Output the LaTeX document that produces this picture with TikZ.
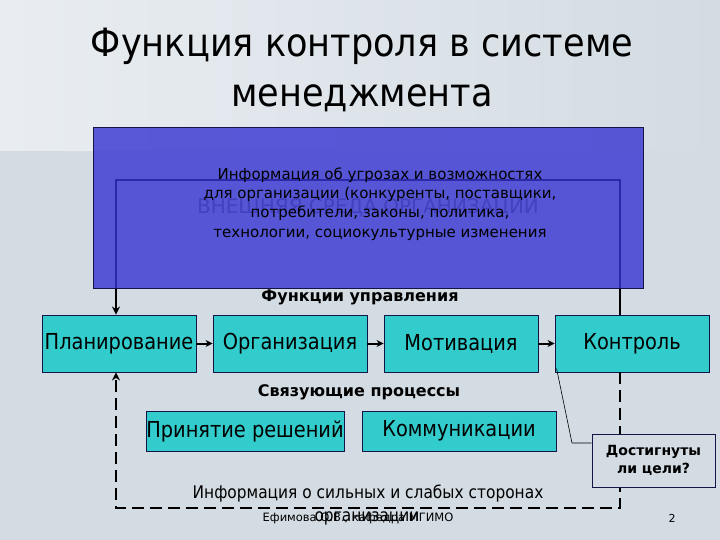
\documentclass[tikz,border=0pt]{standalone}
\usepackage{fontspec}
\setmainfont{DejaVu Sans}
\newfontfamily\ttlfont[FakeStretch=0.9]{DejaVu Sans}
\newfontfamily\boxfont[FakeStretch=0.88]{DejaVu Sans}
\usepackage{xcolor}
\usepackage{tikz}
\usetikzlibrary{arrows.meta}
\definecolor{bgc}{RGB}{211,220,227}
\definecolor{bgl}{RGB}{233,237,241}
\definecolor{envblue}{RGB}{54,52,210}
\definecolor{envtext}{RGB}{120,120,110}
\definecolor{teal}{RGB}{50,204,204}
\definecolor{navy}{RGB}{20,20,70}
\tikzset{
  fn/.style={draw=navy,line width=0.9pt,fill=teal,minimum width=154pt,minimum height=57pt,inner sep=0pt,font=\boxfont\fontsize{22}{26}\selectfont},
  lk/.style={fn,minimum height=40pt},
  goalbox/.style={draw=navy,line width=0.9pt,fill=bgc,minimum width=123pt,minimum height=53pt,align=center,font=\bfseries\fontsize{14}{18}\selectfont},
  sol/.style={line width=2.4pt,black},
  dsh/.style={line width=2.6pt,black,dash pattern=on 12pt off 6pt},
  ar/.style={line width=2pt,-{Stealth[length=7pt,width=7pt]}},
  hd/.style={font=\bfseries\fontsize{16}{19}\selectfont}
}
\begin{document}
\begin{tikzpicture}[x=1pt,y=-1pt]
\useasboundingbox (0,0) rectangle (720,540);
% background
\fill[bgc] (0,0) rectangle (720,540);
\shade[left color=bgl,right color=bgc] (0,0) rectangle (720,150);
\draw[white!50!bgc,line width=0.8pt] (0,150) -- (93,150);
% title
\node[font=\ttlfont\fontsize{39}{50}\selectfont,align=center] (ttl) at (362,70) {Функция контроля в системе\\менеджмента};
% outer frame, seen through the blue box
\coordinate (ftl) at (116,180);
\coordinate (ftr) at (620,180);
\coordinate (fbl) at (116,508);
\node[text=envtext,font=\fontsize{20}{24}\selectfont] (env) at (368,208) {ВНЕШНЯЯ СРЕДА ОРГАНИЗАЦИИ};
% management functions
\node[fn] (plan) at (119,343.5) {Планирование};
\node[fn] (org) at (290,343.5) {Организация};
\node[fn] (mot) at (461,343.5) {Мотивация};
\node[fn] (ctrl) at (632,343.5) {Контроль};
\draw[sol] (ftl |- plan.north) ++(0,-12) -- (ftl) -- (ftr) -- (ftr |- ctrl.north);
\draw[sol,-{Stealth[length=8pt,width=8pt]}] (ftl |- plan.north) ++(0,-14) -- (ftl |- plan.north);
% environment box
\node[draw=navy,line width=1pt,fill=envblue,fill opacity=0.8,minimum width=550pt,minimum height=160pt] (envbox) at (368.5,208) {};
\node[align=center,font=\fontsize{15}{19.2}\selectfont] (info) at (380,204) {Информация об угрозах и возможностях\\для организации (конкуренты, поставщики,\\потребители, законы, политика,\\технологии, социокультурные изменения};
\node[hd] (fhd) at (360,297) {Функции управления};
\draw[ar] (plan) -- (org);
\draw[ar] (org) -- (mot);
\draw[ar] (mot) -- (ctrl);
% linking processes
\node[hd] (lhd) at (359,392) {Связующие процессы};
\node[lk,minimum width=198pt] (dec) at (245,431) {Принятие решений};
\node[lk,minimum width=194pt] (com) at (459,431) {Коммуникации};
% feedback
\draw[dsh,-{Stealth[length=8pt,width=8pt]}] (ftr |- ctrl.south) -- (ftr |- fbl) -- (fbl) -- (fbl |- plan.south);
\node[goalbox] (goal) at (653.5,460.5) {Достигнуты\\ли цели?};
\coordinate (ck) at (572,443);
\draw[line width=0.6pt] ([shift={(2,-4)}]ctrl.south west) -- (ck) -- (goal.west |- ck);
\node[font=\boxfont\fontsize{17.5}{20}\selectfont] (strong) at (368,494) {Информация о сильных и слабых сторонах};
% footer
\node[font=\fontsize{11.5}{13}\selectfont] (foot) at (358,518) {Ефимова О.В., кафедра МГИМО};
\node[font=\boxfont\fontsize{17.5}{20}\selectfont] (orgn) at (367,518) {организации};
\node[font=\fontsize{11}{13}\selectfont] (pg) at (672,518) {2};
\end{tikzpicture}
\end{document}
